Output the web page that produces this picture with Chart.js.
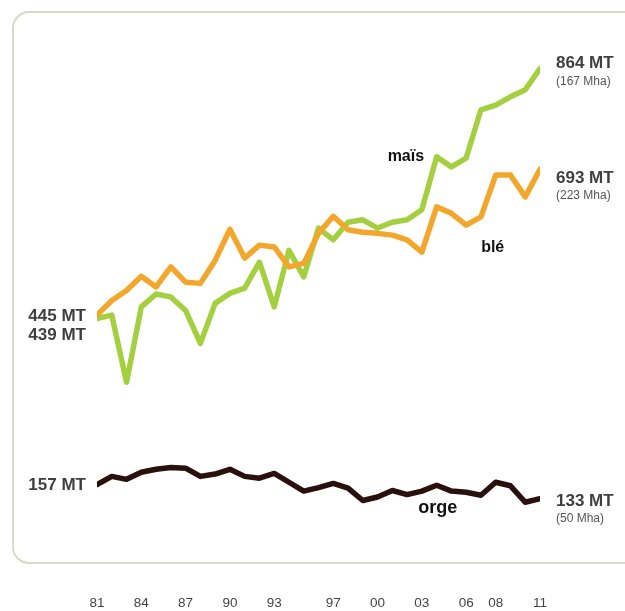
<!DOCTYPE html>
<html>
<head>
<meta charset="utf-8">
<script src="https://cdn.jsdelivr.net/npm/chart.js@4.4.1/dist/chart.umd.min.js"></script>
<style>
  html, body { margin: 0; padding: 0; background: #ffffff; }
  #wrap { width: 625px; height: 611px; }
</style>
</head>
<body>
<div id="wrap"><canvas id="chart" width="625" height="611"></canvas></div>
<script>
// Production mondiale (millions de tonnes), 1981-2011
const years = [1981, 1982, 1983, 1984, 1985, 1986, 1987, 1988, 1989, 1990,
               1991, 1992, 1993, 1994, 1995, 1996, 1997, 1998, 1999, 2000,
               2001, 2002, 2003, 2004, 2005, 2006, 2007, 2008, 2009, 2010, 2011];
const tickYears = [1981, 1984, 1987, 1990, 1993, 1997, 2000, 2003, 2006, 2008, 2011];

const maize = [439, 445, 331, 459, 481, 476, 453, 397, 465, 482,
               491, 535, 459, 555, 510, 593, 573, 603, 607, 593,
               603, 607, 624, 714, 697, 712, 794, 802, 816, 828, 864];
const wheat = [445, 470, 487, 511, 493, 527, 501, 499, 538, 591,
               542, 564, 561, 527, 533, 584, 613, 590, 586, 584,
               581, 573, 552, 629, 618, 598, 612, 683, 683, 646, 693];
const barley = [157, 171, 166, 178, 183, 186, 185, 171, 175, 183,
                171, 168, 176, 161, 146, 152, 159, 151, 130, 136,
                147, 140, 146, 156, 146, 144, 139, 161, 155, 127, 133];

// Surfaces récoltées en 2011 (millions d'hectares): maïs, blé, orge
const areas = [167, 223, 50];
const names = ['maïs', 'blé', 'orge'];

const FONT = '"Liberation Sans", Arial, Helvetica, sans-serif';

const toPoints = (vals) => vals.map((v, i) => ({ x: years[i], y: v }));

// Rounded frame behind the plot
const framePlugin = {
  id: 'frame',
  beforeDraw(chart) {
    const ctx = chart.ctx;
    const x = 13, y = 12, w = 660, h = 551, r = 16;
    ctx.save();
    ctx.beginPath();
    ctx.moveTo(x + r, y);
    ctx.lineTo(x + w, y);
    ctx.lineTo(x + w, y + h);
    ctx.lineTo(x + r, y + h);
    ctx.arcTo(x, y + h, x, y + h - r, r);
    ctx.lineTo(x, y + r);
    ctx.arcTo(x, y, x + r, y, r);
    ctx.closePath();
    ctx.lineWidth = 2;
    ctx.strokeStyle = '#d6dac6';
    ctx.stroke();
    ctx.restore();
  }
};

// Start / end values and series names next to the lines
const labelPlugin = {
  id: 'lineLabels',
  afterDatasetsDraw(chart) {
    const ctx = chart.ctx;
    const xs = chart.scales.x, ys = chart.scales.y;
    const px = (yr) => xs.getPixelForValue(yr);
    const py = (v) => ys.getPixelForValue(v);
    const first = years[0], last = years[years.length - 1];
    const n = years.length - 1;

    const text = (str, x, y, font, color, align) => {
      ctx.font = font;
      ctx.fillStyle = color;
      ctx.textAlign = align;
      ctx.textBaseline = 'middle';
      ctx.fillText(str, x, y);
    };
    const big = 'bold 17px ' + FONT;
    const small = '12px ' + FONT;
    const grey = '#3f3f3f';

    ctx.save();
    // left-hand starting values
    text(wheat[0] + ' MT', px(first) - 11, py(wheat[0]) + 1, big, grey, 'right');
    text(maize[0] + ' MT', px(first) - 11, py(wheat[0]) + 20, big, grey, 'right');
    text(barley[0] + ' MT', px(first) - 11, py(barley[0]) + 1, big, grey, 'right');

    // right-hand final values with harvested area
    const rx = px(last) + 16;
    text(maize[n] + ' MT', rx, py(maize[n]) - 5, big, grey, 'left');
    text('(' + areas[0] + ' Mha)', rx, py(maize[n]) + 13, small, '#555', 'left');
    text(wheat[n] + ' MT', rx, py(wheat[n]) + 9, big, grey, 'left');
    text('(' + areas[1] + ' Mha)', rx, py(wheat[n]) + 26, small, '#555', 'left');
    text(barley[n] + ' MT', rx, py(barley[n]) + 3, big, grey, 'left');
    text('(' + areas[2] + ' Mha)', rx, py(barley[n]) + 20, small, '#555', 'left');

    // series names
    const iM = years.indexOf(2003), iW = years.indexOf(2008), iB = years.indexOf(2003);
    text(names[0], px(years[iM]) - 16, py(maize[iM]) - 53, 'bold 16px ' + FONT, '#111', 'center');
    text(names[1], px(years[iW]) - 3, py(wheat[iW]) + 72, 'bold 16px ' + FONT, '#111', 'center');
    text(names[2], px(years[iB]) + 16, py(barley[iB]) + 17, 'bold 18px ' + FONT, '#111', 'center');
    ctx.restore();
  }
};

const lineStyle = {
  borderWidth: 5.5,
  pointRadius: 0,
  tension: 0,
  fill: false,
  borderJoinStyle: 'round',
  borderCapStyle: 'round'
};

new Chart(document.getElementById('chart'), {
  type: 'line',
  data: {
    datasets: [
      Object.assign({ label: names[2], data: toPoints(barley), borderColor: '#2a100c', order: 3 }, lineStyle),
      Object.assign({ label: names[0], data: toPoints(maize), borderColor: '#a4d040', order: 2 }, lineStyle),
      Object.assign({ label: names[1], data: toPoints(wheat), borderColor: '#f2a62b', order: 1 }, lineStyle)
    ]
  },
  options: {
    responsive: false,
    devicePixelRatio: 1,
    animation: false,
    layout: { padding: { left: 97, right: 85, top: 18, bottom: 0 } },
    plugins: { legend: { display: false }, tooltip: { enabled: false } },
    scales: {
      x: {
        type: 'linear',
        min: years[0],
        max: years[years.length - 1],
        afterBuildTicks(axis) { axis.ticks = tickYears.map(v => ({ value: v })); },
        afterFit(axis) { axis.height = 34; },
        grid: { display: false, drawTicks: false },
        border: { display: false },
        ticks: {
          autoSkip: false,
          maxRotation: 0,
          padding: 18,
          color: '#444',
          font: { family: FONT, size: 13.5 },
          callback: (v) => String(v).slice(2)
        }
      },
      y: {
        display: false,
        min: 0,
        max: 950
      }
    }
  },
  plugins: [framePlugin, labelPlugin]
});
</script>
</body>
</html>
